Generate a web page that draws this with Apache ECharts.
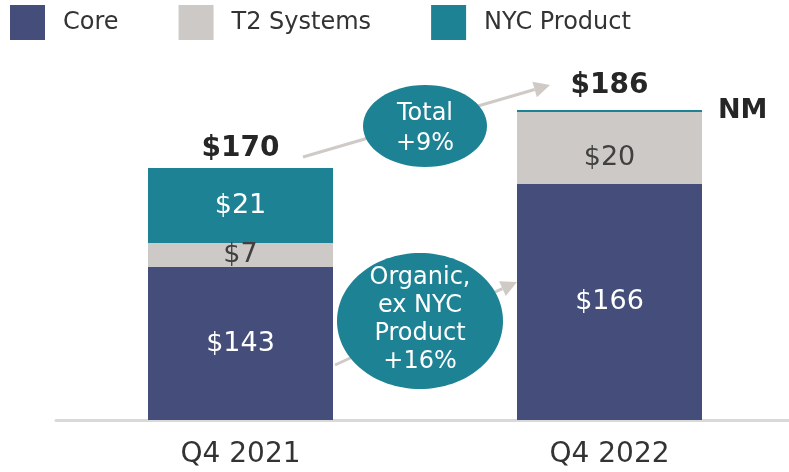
<!DOCTYPE html>
<html>
<head>
<meta charset="utf-8">
<script src="https://cdn.jsdelivr.net/npm/echarts@6/dist/echarts.min.js"></script>
<style>
  html, body { margin: 0; padding: 0; background: #fff; overflow: hidden; }
  #chart { width: 794px; height: 472px; }
</style>
</head>
<body>
<div id="chart"></div>
<script>
const quarters = ["Q4 2021", "Q4 2022"];

// segment heights as drawn on the slide (slide is not to scale)
const coreHeight = [153, 236];
const t2Height = [24, 72];
const nycHeight = [75, 2];

// labels printed on the slide
const coreLabels = ["$143", "$166"];
const t2Labels = ["$7", "$20"];
const nycLabels = ["$21", "NM"];
const totalLabels = ["$170", "$186"];

const FONT = "DejaVu Sans";
const colors = { core: "#454d7b", t2: "#cdc9c6", nyc: "#1d8294", arrow: "#cfcac6" };

const chart = echarts.init(document.getElementById("chart"));

// arrow helper: line + triangle head
function arrow(x1, y1, x2, y2) {
    const dx = x2 - x1, dy = y2 - y1;
    const len = Math.sqrt(dx * dx + dy * dy);
    const ux = dx / len, uy = dy / len;
    const headLen = 16, headW = 8;
    const bx = x2 - ux * headLen, by = y2 - uy * headLen;
    return [
        { type: "line", z: 10, shape: { x1: x1, y1: y1, x2: bx, y2: by },
          style: { stroke: colors.arrow, lineWidth: 3 } },
        { type: "polygon", z: 10,
          shape: { points: [[x2, y2], [bx - uy * headW, by + ux * headW], [bx + uy * headW, by - ux * headW]] },
          style: { fill: colors.arrow } }
    ];
}

function bubble(cx, cy, rx, ry, textY, text, lineHeight) {
    return [
        { type: "ellipse", z: 20, shape: { cx: cx, cy: cy, rx: rx, ry: ry },
          style: { fill: colors.nyc } },
        { type: "text", z: 21, x: cx, y: textY,
          style: { text: text, fill: "#fff", font: "24px '" + FONT + "'",
                   align: "center", verticalAlign: "middle", lineHeight: lineHeight } }
    ];
}

const option = {
    animation: false,
    textStyle: { fontFamily: FONT },
    legend: {
        data: ["Core", "T2 Systems", "NYC Product"],
        left: 5,
        top: 0,
        itemWidth: 35,
        itemHeight: 35,
        itemGap: 60,
        icon: "rect",
        textStyle: { fontSize: 24, color: "#333", fontFamily: FONT, padding: [0, 0, 0, 13] }
    },
    grid: { left: 56, right: 0, top: 60, bottom: 52 },
    xAxis: {
        type: "category",
        data: quarters,
        axisLine: { lineStyle: { color: "#d9d9d9", width: 3 } },
        axisTick: { show: false },
        axisLabel: { fontSize: 28, color: "#333", margin: 21, fontFamily: FONT }
    },
    yAxis: {
        type: "value",
        min: 0,
        max: 360,
        show: false,
        splitLine: { show: false }
    },
    series: [
        {
            name: "Core", type: "bar", stack: "rev", barWidth: 185,
            itemStyle: { color: colors.core },
            label: { show: true, position: "inside", fontSize: 27, color: "#fff", fontFamily: FONT,
                     formatter: p => coreLabels[p.dataIndex] },
            data: coreHeight
        },
        {
            name: "T2 Systems", type: "bar", stack: "rev", barWidth: 185,
            itemStyle: { color: colors.t2 },
            label: { show: true, position: "inside", fontSize: 27, color: "#404040", fontFamily: FONT,
                     formatter: p => t2Labels[p.dataIndex] },
            data: t2Height.map((v, i) => (i === 1 ? { value: v, label: { offset: [0, 10] } } : v))
        },
        {
            name: "NYC Product", type: "bar", stack: "rev", barWidth: 185,
            itemStyle: { color: colors.nyc },
            label: { show: true, fontFamily: FONT, formatter: p => nycLabels[p.dataIndex] },
            data: nycHeight.map((v, i) => ({
                value: v,
                label: i === 0
                    ? { position: "inside", fontSize: 27, color: "#fff" }
                    : { position: "right", distance: 16, fontSize: 27, fontWeight: "bold", color: "#262626" }
            }))
        },
        {
            name: "Total", type: "bar", stack: "rev", barWidth: 185,
            itemStyle: { color: "transparent" },
            label: { show: true, position: "top", fontSize: 28, fontWeight: "bold", color: "#262626",
                     fontFamily: FONT, formatter: p => totalLabels[p.dataIndex] },
            data: [{ value: 0, label: { distance: 5 } }, { value: 0, label: { distance: 10 } }]
        }
    ],
    graphic: [].concat(
        arrow(303, 157, 550, 85),
        arrow(335, 365, 517, 282),
        bubble(425, 126, 62, 41, 129, "Total\n+9%", 30),
        bubble(420, 321, 83, 68, 320, "Organic,\nex NYC\nProduct\n+16%", 28)
    )
};

chart.setOption(option);
</script>
</body>
</html>
